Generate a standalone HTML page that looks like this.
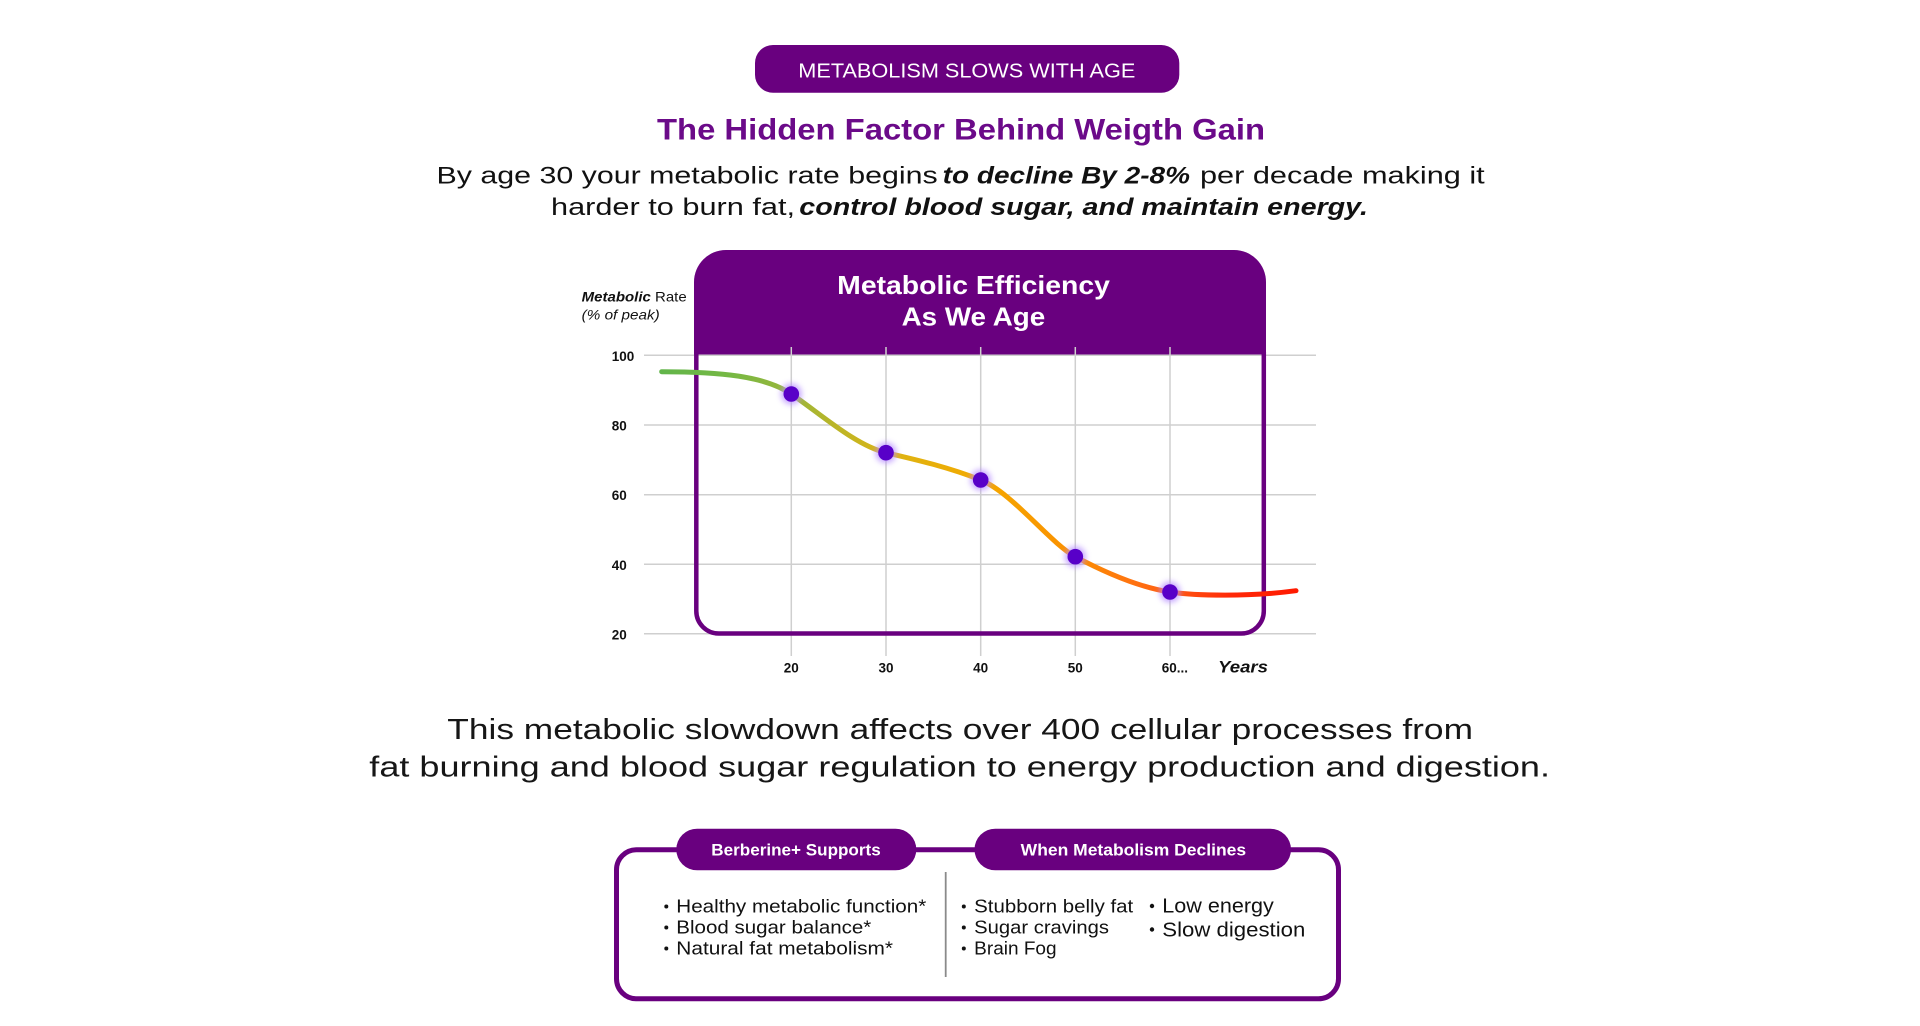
<!DOCTYPE html>
<html>
<head>
<meta charset="utf-8">
<style>
  html,body{margin:0;padding:0;background:#ffffff;}
  svg{display:block;}
  text{font-family:"Liberation Sans", Arial, sans-serif;}
</style>
</head>
<body>
<svg width="1920" height="1026" viewBox="0 0 1920 1026" xmlns="http://www.w3.org/2000/svg">
  <defs>
    <linearGradient id="curveGrad" gradientUnits="userSpaceOnUse" x1="661" y1="0" x2="1296" y2="0">
      <stop offset="0" stop-color="#62b54a"/>
      <stop offset="0.11" stop-color="#76b844"/>
      <stop offset="0.205" stop-color="#9ab63a"/>
      <stop offset="0.28" stop-color="#bdb526"/>
      <stop offset="0.354" stop-color="#dbb515"/>
      <stop offset="0.503" stop-color="#f4a900"/>
      <stop offset="0.652" stop-color="#fb8f00"/>
      <stop offset="0.739" stop-color="#ff7410"/>
      <stop offset="0.802" stop-color="#ff5c12"/>
      <stop offset="0.896" stop-color="#ff2a08"/>
      <stop offset="1" stop-color="#ff1a00"/>
    </linearGradient>
    <filter id="glow" x="-100%" y="-100%" width="300%" height="300%">
      <feGaussianBlur stdDeviation="3"/>
    </filter>
  </defs>

  <!-- Top pill -->
  <rect x="755" y="45" width="424.3" height="47.7" rx="18" fill="#69007f"/>
  <text x="798.3" y="77.3" font-size="20" fill="#ffffff" textLength="337" lengthAdjust="spacingAndGlyphs">METABOLISM SLOWS WITH AGE</text>

  <!-- Heading -->
  <text x="657" y="139.5" font-size="30" font-weight="bold" fill="#6b0a89" textLength="608" lengthAdjust="spacingAndGlyphs">The Hidden Factor Behind Weigth Gain</text>

  <!-- Subtitle -->
  <text x="436.5" y="183.3" font-size="24" fill="#111111" textLength="501.2" lengthAdjust="spacingAndGlyphs">By age 30 your metabolic rate begins</text>
  <text x="942.7" y="183.3" font-size="24" font-weight="bold" font-style="italic" fill="#111111" textLength="247.3" lengthAdjust="spacingAndGlyphs">to decline By 2-8%</text>
  <text x="1200" y="183.3" font-size="24" fill="#111111" textLength="284.7" lengthAdjust="spacingAndGlyphs">per decade making it</text>
  <text x="551" y="215" font-size="24" fill="#111111" textLength="244" lengthAdjust="spacingAndGlyphs">harder to burn fat,</text>
  <text x="799.3" y="215" font-size="24" font-weight="bold" font-style="italic" fill="#111111" textLength="568.7" lengthAdjust="spacingAndGlyphs">control blood sugar, and maintain energy.</text>

  <!-- Chart header -->
  <path d="M694,355 V282 A32,32 0 0 1 726,250 H1234 A32,32 0 0 1 1266,282 V355 Z" fill="#69007f"/>
  <text x="837.2" y="294" font-size="26" font-weight="bold" fill="#ffffff" textLength="272.7" lengthAdjust="spacingAndGlyphs">Metabolic Efficiency</text>
  <text x="901.6" y="325.7" font-size="26" font-weight="bold" fill="#ffffff" textLength="143.6" lengthAdjust="spacingAndGlyphs">As We Age</text>

  <!-- Y axis title -->
  <text x="581.7" y="301.7" font-size="14" fill="#111111" textLength="105" lengthAdjust="spacingAndGlyphs"><tspan font-weight="bold" font-style="italic">Metabolic</tspan> Rate</text>
  <text x="581.7" y="319.3" font-size="14" font-style="italic" fill="#111111" textLength="78" lengthAdjust="spacingAndGlyphs">(% of peak)</text>

  <!-- Grid -->
  <g stroke="#cfcfcf" stroke-width="1.5">
    <line x1="644" y1="355.3" x2="1316" y2="355.3"/>
    <line x1="644" y1="425" x2="1316" y2="425"/>
    <line x1="644" y1="494.7" x2="1316" y2="494.7"/>
    <line x1="644" y1="564.3" x2="1316" y2="564.3"/>
    <line x1="644" y1="633.7" x2="1316" y2="633.7"/>
    <line x1="791.3" y1="347" x2="791.3" y2="656"/>
    <line x1="886" y1="347" x2="886" y2="656"/>
    <line x1="980.7" y1="347" x2="980.7" y2="656"/>
    <line x1="1075.3" y1="347" x2="1075.3" y2="656"/>
    <line x1="1170" y1="347" x2="1170" y2="656"/>
  </g>

  <!-- Chart body outline -->
  <path d="M696.3,352 V611 A22.5,22.5 0 0 0 718.8,633.5 H1241.3 A22.5,22.5 0 0 0 1263.8,611 V352" fill="none" stroke="#69007f" stroke-width="4.5"/>

  <!-- Y tick labels -->
  <g font-size="13.5" font-weight="bold" fill="#111111">
    <text x="611.7" y="360.8">100</text>
    <text x="611.7" y="430.5">80</text>
    <text x="611.7" y="500.2">60</text>
    <text x="611.7" y="569.8">40</text>
    <text x="611.7" y="639.5">20</text>
  </g>

  <!-- X tick labels -->
  <g font-size="13.5" font-weight="bold" fill="#111111" text-anchor="middle">
    <text x="791.3" y="672.3">20</text>
    <text x="886" y="672.3">30</text>
    <text x="980.7" y="672.3">40</text>
    <text x="1075.3" y="672.3">50</text>
  </g>
  <text x="1161.7" y="672.3" font-size="13.5" font-weight="bold" fill="#111111">60...</text>
  <text x="1218" y="672.3" font-size="17" font-weight="bold" font-style="italic" fill="#111111" textLength="50" lengthAdjust="spacingAndGlyphs">Years</text>

  <!-- Curve -->
  <path d="M661.7,371.7 C720,371.7 765,376.1 791.3,394 C820,413.5 856,445.8 886,452.7 C917,459.8 950,467.7 980.7,480 C1012,492.5 1050,543 1075.3,556.7 C1105,572.5 1140,587.5 1170,592 C1195,595.75 1250,597 1296,590.7" fill="none" stroke="url(#curveGrad)" stroke-width="5" stroke-linecap="round"/>

  <!-- Dots -->
  <g fill="#b58cff" opacity="0.75" filter="url(#glow)">
    <circle cx="791.3" cy="394" r="10.5"/>
    <circle cx="886" cy="452.7" r="10.5"/>
    <circle cx="980.7" cy="480" r="10.5"/>
    <circle cx="1075.3" cy="556.7" r="10.5"/>
    <circle cx="1170" cy="592" r="10.5"/>
  </g>
  <g fill="#5800c8">
    <circle cx="791.3" cy="394" r="7.8"/>
    <circle cx="886" cy="452.7" r="7.8"/>
    <circle cx="980.7" cy="480" r="7.8"/>
    <circle cx="1075.3" cy="556.7" r="7.8"/>
    <circle cx="1170" cy="592" r="7.8"/>
  </g>

  <!-- Paragraph -->
  <text x="447.3" y="739" font-size="29" fill="#161616" textLength="1025.7" lengthAdjust="spacingAndGlyphs">This metabolic slowdown affects over 400 cellular processes from</text>
  <text x="369.3" y="776.7" font-size="29" fill="#161616" textLength="1180.7" lengthAdjust="spacingAndGlyphs">fat burning and blood sugar regulation to energy production and digestion.</text>

  <!-- Bottom box -->
  <rect x="616.5" y="849.8" width="722" height="149" rx="20" fill="none" stroke="#69007f" stroke-width="5"/>
  <rect x="676.3" y="828.7" width="240" height="41.6" rx="20.8" fill="#69007f"/>
  <rect x="974.5" y="828.7" width="316.5" height="41.6" rx="20.8" fill="#69007f"/>
  <text x="711.3" y="855.3" font-size="17" font-weight="bold" fill="#ffffff" textLength="169.4" lengthAdjust="spacingAndGlyphs">Berberine+ Supports</text>
  <text x="1020.7" y="855.3" font-size="17" font-weight="bold" fill="#ffffff" textLength="225.4" lengthAdjust="spacingAndGlyphs">When Metabolism Declines</text>

  <line x1="945.7" y1="872" x2="945.7" y2="977" stroke="#8a8a8a" stroke-width="1.8"/>

  <!-- Bullets -->
  <g fill="#111111">
    <circle cx="666.3" cy="906.5" r="2"/>
    <circle cx="666.3" cy="927.5" r="2"/>
    <circle cx="666.3" cy="948.5" r="2"/>
    <circle cx="963.8" cy="906.5" r="2"/>
    <circle cx="963.8" cy="927.5" r="2"/>
    <circle cx="963.8" cy="948.5" r="2"/>
    <circle cx="1152" cy="906" r="2.2"/>
    <circle cx="1152" cy="929.5" r="2.2"/>
  </g>
  <g font-size="18.5" fill="#111111">
    <text x="676.3" y="912.7" textLength="250" lengthAdjust="spacingAndGlyphs">Healthy metabolic function*</text>
    <text x="676.3" y="933.7" textLength="195" lengthAdjust="spacingAndGlyphs">Blood sugar balance*</text>
    <text x="676.3" y="954.7" textLength="216.7" lengthAdjust="spacingAndGlyphs">Natural fat metabolism*</text>
    <text x="974.2" y="912.7" textLength="159" lengthAdjust="spacingAndGlyphs">Stubborn belly fat</text>
    <text x="974.2" y="933.7" textLength="134.8" lengthAdjust="spacingAndGlyphs">Sugar cravings</text>
    <text x="974.2" y="954.7" textLength="82.4" lengthAdjust="spacingAndGlyphs">Brain Fog</text>
  </g>
  <g font-size="20" fill="#111111">
    <text x="1162.3" y="912.7" textLength="111.5" lengthAdjust="spacingAndGlyphs">Low energy</text>
    <text x="1162.3" y="936.7" textLength="143" lengthAdjust="spacingAndGlyphs">Slow digestion</text>
  </g>
</svg>
</body>
</html>
